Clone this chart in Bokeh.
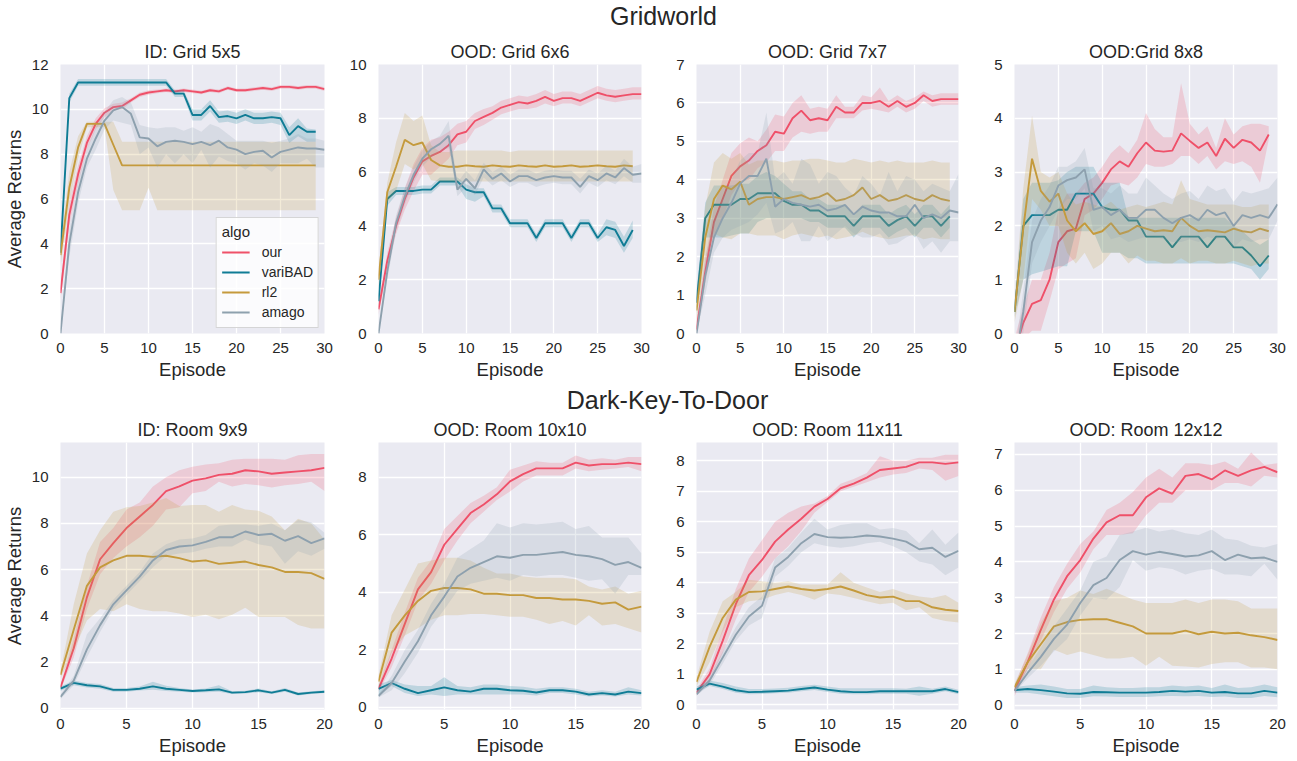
from bokeh.plotting import figure
from bokeh.layouts import column, row
from bokeh.models import Range1d, FixedTicker, Legend, LegendItem, Title
from bokeh.embed import file_html
from bokeh.resources import INLINE
from bokeh.core.properties import value

FONT = "Liberation Sans"
TXT = "#262626"
BG = "#eaeaf2"
COLORS = {"our": "#ef5169", "variBAD": "#0f7c95", "rl2": "#c59a3c", "amago": "#8ea1ae"}
ALGOS = ["our", "variBAD", "rl2", "amago"]

# ---------------- Gridworld: ID Grid 5x5 ----------------
g5_our = [1.8, 5.3, 7.1, 8.5, 9.35, 9.85, 10.1, 10.15, 10.4, 10.65, 10.75, 10.8, 10.85, 10.8, 10.85, 10.8, 10.75, 10.85, 10.8, 10.95, 10.85, 10.85, 10.9, 10.95, 10.9, 11.0, 11.0, 10.95, 11.0, 11.0, 10.9]
g5_our_lo = [1.5, 4.8, 6.7, 8.2, 9.1, 9.65, 9.95, 10.0, 10.3, 10.55, 10.65, 10.72, 10.77, 10.72, 10.77, 10.72, 10.67, 10.77, 10.72, 10.87, 10.77, 10.77, 10.82, 10.87, 10.82, 10.92, 10.92, 10.87, 10.92, 10.92, 10.82]
g5_our_hi = [2.1, 5.8, 7.5, 8.8, 9.6, 10.05, 10.25, 10.3, 10.5, 10.75, 10.85, 10.88, 10.93, 10.88, 10.93, 10.88, 10.83, 10.93, 10.88, 11.03, 10.93, 10.93, 10.98, 11.03, 10.98, 11.08, 11.08, 11.03, 11.08, 11.08, 10.98]
g5_var = [3.6, 10.5, 11.2, 11.2, 11.2, 11.2, 11.2, 11.2, 11.2, 11.2, 11.2, 11.2, 11.2, 10.7, 10.7, 9.75, 9.75, 10.15, 9.65, 9.7, 9.6, 9.75, 9.6, 9.6, 9.65, 9.6, 8.85, 9.25, 9.0, 9.0]
g5_var_lo = [3.3, 10.3, 11.05, 11.05, 11.05, 11.05, 11.05, 11.05, 11.05, 11.05, 11.05, 11.05, 11.05, 10.55, 10.55, 9.5, 9.5, 9.9, 9.4, 9.45, 9.35, 9.5, 9.35, 9.35, 9.4, 9.3, 8.5, 8.8, 8.55, 8.55]
g5_var_hi = [3.9, 10.7, 11.35, 11.35, 11.35, 11.35, 11.35, 11.35, 11.35, 11.35, 11.35, 11.35, 11.35, 10.85, 10.85, 10.0, 10.0, 10.4, 9.9, 9.95, 9.85, 10.0, 9.85, 9.85, 9.9, 9.85, 9.2, 9.6, 9.15, 9.1]
g5_rl2 = [3.5, 6.5, 8.3, 9.35, 9.35, 9.35, 8.42, 7.5, 7.5, 7.5, 7.5, 7.5, 7.5, 7.5, 7.5, 7.5, 7.5, 7.5, 7.5, 7.5, 7.5, 7.5, 7.5, 7.5, 7.5, 7.5, 7.5, 7.5, 7.5, 7.5]
g5_rl2_lo = [3.0, 5.8, 7.8, 9.2, 9.2, 9.2, 6.4, 5.5, 5.5, 5.5, 6.5, 5.5, 5.5, 5.5, 5.5, 5.5, 5.5, 5.5, 5.5, 5.5, 5.5, 5.5, 5.5, 5.5, 5.5, 5.5, 5.5, 5.5, 5.5, 5.5]
g5_rl2_hi = [4.0, 7.2, 8.8, 9.45, 9.45, 9.45, 9.45, 8.55, 8.55, 8.55, 8.55, 8.55, 8.55, 8.55, 8.55, 8.55, 8.55, 8.55, 8.55, 8.55, 8.55, 8.55, 8.55, 8.55, 8.55, 8.55, 8.55, 8.55, 8.55, 8.55]
g5_ama = [0.0, 4.0, 6.3, 7.8, 8.7, 9.5, 9.95, 10.1, 9.8, 8.75, 8.7, 8.35, 8.55, 8.6, 8.55, 8.45, 8.55, 8.4, 8.6, 8.3, 8.2, 8.0, 8.1, 8.15, 7.85, 8.1, 8.2, 8.3, 8.25, 8.25, 8.2]
g5_ama_lo = [0.0, 3.4, 5.8, 7.4, 8.2, 9.1, 9.5, 9.4, 9.3, 8.0, 8.3, 7.4, 8.0, 7.6, 8.0, 7.6, 8.2, 7.4, 7.9, 7.7, 7.6, 7.3, 7.6, 7.5, 7.2, 7.6, 7.6, 7.6, 7.8, 7.4, 7.4]
g5_ama_hi = [0.0, 4.6, 6.8, 8.2, 9.2, 9.9, 10.4, 10.55, 10.3, 9.3, 9.2, 9.15, 9.2, 9.2, 9.05, 9.2, 9.0, 9.35, 9.2, 8.9, 8.6, 8.6, 8.6, 8.6, 8.5, 8.6, 8.7, 8.9, 8.7, 8.7, 8.6]

# ---------------- OOD Grid 6x6 ----------------
g6_our = [0.9, 2.7, 4.0, 5.0, 5.8, 6.4, 6.6, 6.75, 7.0, 7.4, 7.5, 7.9, 8.05, 8.2, 8.4, 8.5, 8.6, 8.55, 8.65, 8.8, 8.65, 8.75, 8.75, 8.65, 8.8, 8.95, 8.85, 8.8, 8.85, 8.9, 8.9]
g6_our_lo = [0.7, 2.4, 3.7, 4.6, 5.3, 5.9, 5.9, 6.2, 6.5, 7.0, 7.1, 7.6, 7.75, 7.95, 8.15, 8.25, 8.35, 8.35, 8.4, 8.55, 8.45, 8.55, 8.55, 8.45, 8.6, 8.75, 8.65, 8.6, 8.65, 8.7, 8.7]
g6_our_hi = [1.1, 3.0, 4.3, 5.4, 6.3, 6.9, 7.2, 7.3, 7.5, 7.8, 7.9, 8.2, 8.35, 8.45, 8.65, 8.75, 8.85, 8.8, 8.9, 9.05, 8.9, 9.0, 9.0, 8.9, 9.05, 9.2, 9.1, 9.05, 9.1, 9.15, 9.15]
g6_var = [1.2, 5.0, 5.3, 5.3, 5.3, 5.35, 5.35, 5.65, 5.65, 5.65, 5.35, 5.25, 5.25, 4.65, 4.65, 4.1, 4.1, 4.1, 3.55, 4.1, 4.1, 4.1, 3.55, 4.1, 4.1, 3.55, 3.95, 3.85, 3.25, 3.85]
g6_var_lo = [1.0, 4.75, 5.15, 5.15, 5.15, 5.2, 5.2, 5.5, 5.5, 5.5, 5.0, 4.9, 5.1, 4.5, 4.5, 3.95, 3.95, 3.95, 3.4, 3.95, 3.95, 3.95, 3.4, 3.95, 3.95, 3.4, 3.65, 3.55, 3.0, 3.55]
g6_var_hi = [1.4, 5.25, 5.45, 5.45, 5.45, 5.5, 5.5, 5.8, 5.8, 5.8, 5.55, 5.4, 5.4, 4.8, 4.8, 4.25, 4.25, 4.25, 3.7, 4.25, 4.25, 4.25, 3.7, 4.25, 4.25, 3.7, 4.25, 4.15, 3.6, 4.2]
g6_rl2 = [2.0, 5.25, 6.2, 7.2, 7.0, 7.1, 6.45, 6.25, 6.2, 6.2, 6.25, 6.22, 6.2, 6.25, 6.22, 6.2, 6.25, 6.22, 6.2, 6.25, 6.2, 6.22, 6.25, 6.2, 6.22, 6.25, 6.22, 6.2, 6.25, 6.22]
g6_rl2_lo = [1.6, 4.9, 5.3, 6.3, 6.1, 6.3, 5.7, 5.65, 5.65, 5.65, 5.65, 5.65, 5.65, 5.65, 5.65, 5.65, 5.65, 5.65, 5.65, 5.65, 5.65, 5.65, 5.65, 5.65, 5.65, 5.65, 5.65, 5.65, 5.65, 5.65]
g6_rl2_hi = [2.4, 5.6, 7.1, 8.2, 7.9, 8.1, 7.0, 6.75, 6.75, 6.8, 6.8, 6.8, 6.8, 6.8, 6.8, 6.75, 6.8, 6.8, 6.8, 6.8, 6.8, 6.8, 6.8, 6.8, 6.8, 6.8, 6.8, 6.8, 6.8, 6.8]
g6_ama = [0.0, 2.3, 4.1, 5.1, 5.9, 6.5, 6.85, 7.05, 7.35, 5.35, 5.75, 5.4, 6.1, 5.75, 5.95, 5.65, 5.85, 5.85, 5.7, 5.8, 5.85, 5.8, 5.8, 5.45, 5.85, 5.7, 5.95, 5.8, 6.15, 5.9, 5.95]
g6_ama_lo = [0.0, 2.0, 3.8, 4.8, 5.6, 6.2, 6.55, 6.75, 6.9, 5.1, 5.45, 5.15, 5.8, 5.5, 5.7, 5.45, 5.6, 5.6, 5.45, 5.55, 5.6, 5.55, 5.55, 5.2, 5.6, 5.45, 5.7, 5.55, 5.85, 5.6, 5.6]
g6_ama_hi = [0.0, 2.6, 4.4, 5.4, 6.2, 6.8, 7.15, 7.35, 7.9, 5.6, 6.05, 5.7, 6.35, 6.0, 6.2, 5.9, 6.1, 6.1, 5.95, 6.05, 6.1, 6.05, 6.05, 5.75, 6.1, 5.95, 6.25, 6.05, 6.5, 6.2, 6.3]

# ---------------- OOD Grid 7x7 ----------------
g7_our = [0.1, 1.6, 2.9, 3.5, 4.1, 4.35, 4.5, 4.75, 4.9, 5.25, 5.2, 5.6, 5.8, 5.55, 5.6, 5.55, 5.9, 5.75, 5.75, 6.0, 6.0, 6.05, 5.9, 6.05, 5.9, 6.0, 6.2, 6.05, 6.1, 6.1, 6.1]
g7_our_lo = [0.0, 1.3, 2.5, 3.0, 3.6, 3.95, 4.0, 4.3, 4.45, 4.75, 4.75, 5.1, 5.25, 5.2, 5.25, 5.25, 5.6, 5.6, 5.6, 5.8, 5.85, 5.8, 5.75, 5.9, 5.75, 5.85, 6.05, 5.9, 5.95, 5.95, 5.95]
g7_our_hi = [0.3, 1.9, 3.3, 4.0, 4.7, 4.95, 5.1, 5.0, 5.3, 5.7, 5.65, 6.0, 6.2, 5.85, 5.9, 5.85, 6.2, 5.9, 5.9, 6.2, 6.15, 6.4, 6.05, 6.2, 6.05, 6.15, 6.3, 6.2, 6.25, 6.25, 6.25]
g7_var = [0.8, 3.0, 3.35, 3.35, 3.35, 3.5, 3.5, 3.65, 3.65, 3.65, 3.45, 3.35, 3.35, 3.2, 3.2, 3.05, 3.05, 3.05, 2.8, 3.05, 3.05, 3.05, 2.8, 2.95, 3.05, 2.8, 3.05, 3.05, 2.8, 3.05]
g7_var_lo = [0.5, 2.5, 2.5, 2.5, 2.55, 2.6, 2.6, 2.9, 3.0, 3.0, 3.0, 3.0, 3.0, 2.9, 2.9, 2.75, 2.75, 2.75, 2.5, 2.75, 2.75, 2.75, 2.5, 2.65, 2.75, 2.5, 2.75, 2.75, 2.5, 2.75]
g7_var_hi = [1.1, 3.4, 3.85, 3.85, 3.85, 3.9, 3.9, 4.1, 4.2, 4.1, 3.9, 3.7, 3.7, 3.5, 3.5, 3.35, 3.35, 3.35, 3.1, 3.35, 3.35, 3.35, 3.1, 3.25, 3.35, 3.1, 3.35, 3.35, 3.1, 3.35]
g7_rl2 = [0.6, 2.5, 3.5, 3.85, 3.75, 3.95, 3.35, 3.5, 3.55, 3.55, 3.5, 3.55, 3.6, 3.5, 3.55, 3.65, 3.45, 3.5, 3.6, 3.8, 3.5, 3.6, 3.45, 3.5, 3.6, 3.5, 3.45, 3.6, 3.5, 3.45]
g7_rl2_lo = [0.3, 1.8, 2.6, 2.5, 2.45, 2.6, 2.6, 2.55, 2.55, 2.55, 2.45, 2.55, 2.6, 2.55, 2.5, 2.55, 2.45, 2.5, 2.55, 2.65, 2.55, 2.5, 2.45, 2.5, 2.55, 2.55, 2.45, 2.5, 2.45, 2.45]
g7_rl2_hi = [0.9, 3.3, 4.45, 4.7, 4.55, 4.7, 4.4, 4.5, 4.5, 4.5, 4.45, 4.5, 4.5, 4.55, 4.55, 4.5, 4.45, 4.45, 4.55, 4.5, 4.45, 4.5, 4.45, 4.5, 4.45, 4.45, 4.45, 4.5, 4.45, 4.45]
g7_ama = [0.0, 1.5, 2.5, 3.0, 3.4, 3.9, 4.1, 4.1, 4.55, 3.3, 3.5, 3.4, 3.35, 3.3, 3.35, 3.2, 3.25, 3.35, 3.1, 3.3, 3.2, 3.15, 3.15, 3.05, 3.05, 3.35, 3.0, 3.1, 3.0, 3.2, 3.15]
g7_ama_lo = [0.0, 1.0, 2.1, 2.5, 2.7, 2.8, 2.9, 3.1, 3.4, 2.6, 2.7, 2.9, 2.4, 2.4, 2.8, 2.4, 2.6, 2.8, 2.6, 2.5, 2.5, 2.6, 2.3, 2.35, 2.5, 2.6, 2.2, 2.4, 2.1, 2.4, 2.4]
g7_ama_hi = [0.0, 2.0, 2.9, 3.5, 4.0, 4.5, 4.7, 4.7, 5.75, 4.0, 4.2, 3.9, 4.55, 4.4, 3.9, 4.2, 4.1, 3.8, 3.6, 4.1, 3.9, 3.6, 4.2, 3.7, 4.1, 4.0, 3.7, 3.9, 3.8, 3.7, 4.15]

# ---------------- OOD Grid 8x8 ----------------
g8_our = [-0.35, 0.2, 0.55, 0.62, 1.0, 1.7, 1.9, 1.95, 2.5, 2.6, 2.8, 3.05, 3.2, 3.1, 3.35, 3.55, 3.4, 3.38, 3.4, 3.72, 3.58, 3.45, 3.55, 3.3, 3.62, 3.45, 3.6, 3.55, 3.4, 3.7]
g8_our_lo = [-0.6, -0.1, 0.05, 0.05, 0.6, 1.2, 1.3, 1.4, 2.2, 2.3, 2.5, 2.75, 2.8, 2.75, 2.9, 3.15, 3.1, 3.1, 3.15, 3.3, 3.3, 3.15, 3.3, 3.05, 3.2, 3.15, 3.2, 3.1, 2.8, 3.6]
g8_our_hi = [-0.1, 0.5, 1.0, 1.0, 1.5, 2.3, 2.6, 2.6, 2.8, 2.9, 3.1, 3.35, 3.5, 3.35, 3.6, 4.1, 3.8, 3.65, 3.65, 4.65, 3.9, 3.7, 3.85, 3.45, 4.0, 3.7, 3.85, 3.9, 3.9, 3.85]
g8_var = [0.4, 2.0, 2.2, 2.2, 2.2, 2.3, 2.3, 2.6, 2.6, 2.6, 2.35, 2.3, 2.3, 2.1, 2.1, 1.8, 1.8, 1.8, 1.6, 1.8, 1.8, 1.8, 1.6, 1.8, 1.8, 1.6, 1.6, 1.45, 1.25, 1.45]
g8_var_lo = [0.3, 1.0, 1.1, 1.15, 1.2, 1.25, 1.25, 1.9, 1.9, 1.9, 1.5, 1.5, 1.5, 1.4, 1.4, 1.3, 1.3, 1.3, 1.3, 1.3, 1.3, 1.3, 1.3, 1.3, 1.3, 1.3, 1.25, 1.2, 1.0, 1.2]
g8_var_hi = [0.5, 2.5, 2.8, 2.8, 2.8, 2.85, 3.0, 3.1, 3.1, 3.1, 2.8, 2.8, 2.8, 2.15, 2.15, 2.15, 2.15, 2.15, 2.15, 2.15, 2.15, 2.15, 2.15, 2.15, 2.15, 2.0, 1.9, 1.75, 1.65, 1.75]
g8_rl2 = [0.4, 1.95, 3.25, 2.65, 2.45, 2.6, 2.1, 1.9, 2.05, 1.85, 1.9, 2.05, 1.85, 1.9, 2.0, 1.95, 1.9, 1.92, 1.9, 2.15, 2.0, 1.9, 1.92, 1.9, 1.88, 1.95, 1.9, 1.88, 1.95, 1.9]
g8_rl2_lo = [0.2, 1.0, 2.5, 2.3, 2.0, 2.0, 1.5, 1.3, 1.5, 1.2, 1.3, 1.5, 1.5, 1.3, 1.45, 1.35, 1.35, 1.3, 1.3, 1.4, 1.3, 1.35, 1.35, 1.3, 1.3, 1.35, 1.3, 1.25, 1.3, 1.3]
g8_rl2_hi = [0.6, 2.7, 4.05, 3.0, 2.9, 3.0, 2.6, 2.4, 2.45, 2.4, 2.35, 2.45, 2.3, 2.35, 2.4, 2.35, 2.4, 2.45, 2.4, 2.85, 2.5, 2.45, 2.4, 2.4, 2.4, 2.4, 2.35, 2.35, 2.4, 2.4]
g8_ama = [-0.6, 0.4, 1.7, 2.1, 2.35, 2.75, 2.85, 2.9, 3.05, 2.3, 2.35, 2.2, 2.3, 2.15, 2.15, 2.3, 2.3, 2.15, 2.05, 2.15, 2.2, 2.1, 2.3, 2.2, 2.25, 2.0, 2.2, 2.15, 2.2, 2.15, 2.4]
g8_ama_lo = [-0.8, 0.0, 1.3, 1.7, 2.0, 2.3, 2.5, 2.5, 2.7, 1.9, 2.0, 1.75, 1.8, 1.7, 1.75, 1.8, 1.8, 1.75, 1.7, 1.7, 1.75, 1.7, 1.8, 1.75, 1.8, 1.6, 1.75, 1.7, 1.75, 1.75, 2.1]
g8_ama_hi = [-0.4, 0.8, 2.1, 2.5, 2.75, 3.1, 3.1, 3.2, 3.45, 2.7, 2.7, 2.6, 2.75, 2.6, 2.6, 2.9, 2.75, 2.6, 2.5, 2.6, 2.65, 2.5, 2.75, 2.65, 2.7, 2.45, 2.65, 2.6, 2.65, 2.7, 2.9]

# ---------------- Dark-Key-To-Door: ID Room 9x9 ----------------
r9_our = [0.9, 2.6, 4.8, 6.45, 7.15, 7.8, 8.3, 8.8, 9.4, 9.6, 9.85, 9.95, 10.1, 10.15, 10.3, 10.25, 10.15, 10.2, 10.25, 10.3, 10.4]
r9_our_lo = [0.8, 2.2, 4.3, 5.8, 6.5, 7.0, 7.4, 7.9, 8.6, 8.7, 9.3, 9.4, 9.8, 9.6, 9.7, 9.65, 9.55, 9.65, 9.7, 9.8, 9.4]
r9_our_hi = [1.0, 3.0, 5.3, 7.2, 7.8, 8.6, 8.9, 9.6, 10.0, 10.3, 10.45, 10.55, 10.6, 10.75, 10.8, 10.8, 10.8, 10.75, 10.95, 11.0, 11.0]
r9_var = [0.85, 1.1, 1.0, 0.95, 0.8, 0.8, 0.85, 0.95, 0.85, 0.8, 0.75, 0.78, 0.82, 0.68, 0.7, 0.78, 0.68, 0.8, 0.62, 0.68, 0.72]
r9_var_lo = [0.75, 1.0, 0.9, 0.85, 0.72, 0.72, 0.77, 0.8, 0.75, 0.72, 0.68, 0.7, 0.72, 0.62, 0.64, 0.7, 0.62, 0.72, 0.56, 0.62, 0.66]
r9_var_hi = [0.95, 1.2, 1.1, 1.05, 0.88, 0.88, 0.95, 1.15, 0.98, 0.88, 0.82, 0.86, 1.0, 0.74, 0.76, 0.86, 0.74, 0.88, 0.68, 0.74, 0.78]
r9_rl2 = [1.45, 3.4, 5.3, 6.1, 6.4, 6.6, 6.6, 6.55, 6.6, 6.5, 6.35, 6.4, 6.25, 6.3, 6.35, 6.2, 6.1, 5.9, 5.9, 5.85, 5.6]
r9_rl2_lo = [1.3, 2.5, 3.8, 4.3, 4.2, 4.5, 4.3, 4.2, 4.2, 4.1, 3.95, 4.05, 3.85, 4.05, 4.35, 3.95, 3.95, 3.95, 3.6, 3.45, 3.45]
r9_rl2_hi = [1.6, 4.5, 6.7, 7.7, 8.5, 8.7, 8.75, 8.9, 9.1, 8.75, 8.8, 8.8, 8.5, 8.8, 8.6, 8.55, 8.3, 7.7, 8.2, 8.0, 7.3]
r9_ama = [0.5, 1.2, 2.55, 3.6, 4.5, 5.1, 5.7, 6.4, 6.85, 7.0, 7.05, 7.2, 7.4, 7.4, 7.65, 7.5, 7.55, 7.25, 7.45, 7.15, 7.35]
r9_ama_lo = [0.4, 1.0, 2.2, 3.3, 4.3, 4.9, 5.5, 6.1, 6.6, 6.7, 6.75, 6.9, 7.0, 7.0, 7.3, 7.1, 7.0, 6.25, 6.8, 6.6, 6.9]
r9_ama_hi = [0.6, 1.4, 3.2, 3.9, 4.7, 5.3, 5.9, 6.7, 7.1, 7.3, 7.35, 7.5, 7.9, 7.95, 7.95, 7.9, 8.0, 7.7, 8.15, 8.05, 7.6]

# ---------------- OOD Room 10x10 ----------------
r10_our = [0.65, 1.7, 2.9, 4.1, 4.7, 5.65, 6.2, 6.75, 7.05, 7.4, 7.85, 8.1, 8.3, 8.3, 8.3, 8.5, 8.4, 8.45, 8.45, 8.5, 8.45]
r10_our_lo = [0.55, 1.4, 2.5, 3.7, 4.3, 5.1, 5.8, 6.4, 6.8, 7.2, 7.5, 7.85, 8.05, 8.05, 8.05, 8.3, 8.2, 8.25, 8.3, 8.35, 8.2]
r10_our_hi = [0.75, 2.0, 3.3, 4.5, 5.1, 6.2, 6.65, 7.1, 7.35, 7.65, 8.25, 8.4, 8.55, 8.5, 8.5, 8.75, 8.6, 8.65, 8.6, 8.7, 8.7]
r10_var = [0.65, 0.85, 0.65, 0.5, 0.6, 0.7, 0.6, 0.55, 0.65, 0.65, 0.6, 0.58, 0.52, 0.6, 0.6, 0.55, 0.45, 0.5, 0.45, 0.55, 0.5]
r10_var_lo = [0.4, 0.75, 0.5, 0.4, 0.45, 0.4, 0.45, 0.45, 0.45, 0.45, 0.45, 0.45, 0.42, 0.5, 0.5, 0.45, 0.38, 0.42, 0.38, 0.45, 0.42]
r10_var_hi = [0.8, 0.95, 0.8, 0.75, 0.75, 1.05, 0.75, 0.7, 0.8, 0.8, 0.75, 0.72, 0.65, 0.7, 0.7, 0.65, 0.55, 0.6, 0.55, 0.7, 0.6]
r10_rl2 = [0.9, 2.6, 3.2, 3.7, 4.05, 4.15, 4.15, 4.1, 3.95, 3.95, 3.9, 3.9, 3.8, 3.8, 3.75, 3.75, 3.7, 3.6, 3.65, 3.4, 3.5]
r10_rl2_lo = [0.7, 1.9, 2.5, 2.75, 3.05, 3.2, 3.2, 3.25, 3.25, 3.2, 3.15, 3.15, 3.05, 2.9, 3.0, 2.85, 3.2, 2.85, 2.9, 2.75, 2.6]
r10_rl2_hi = [1.1, 3.2, 4.1, 5.0, 5.1, 5.2, 5.2, 5.1, 4.85, 4.65, 4.65, 4.55, 4.5, 4.5, 4.5, 4.45, 4.2, 4.1, 4.2, 3.95, 4.05]
r10_ama = [0.4, 0.85, 1.6, 2.3, 3.2, 3.85, 4.55, 4.85, 5.05, 5.25, 5.2, 5.3, 5.3, 5.35, 5.4, 5.3, 5.25, 5.15, 4.95, 5.05, 4.85]
r10_ama_lo = [0.35, 0.6, 1.2, 1.9, 2.8, 3.4, 4.05, 4.3, 4.4, 4.5, 4.4, 4.6, 4.55, 4.6, 4.6, 4.5, 4.4, 4.45, 3.95, 4.6, 4.6]
r10_ama_hi = [0.45, 1.1, 2.0, 2.7, 3.6, 4.3, 5.2, 5.5, 5.8, 6.4, 6.25, 6.4, 6.35, 6.4, 6.45, 6.2, 6.3, 5.9, 5.9, 5.9, 5.35]

# ---------------- OOD Room 11x11 ----------------
r11_our = [0.4, 1.0, 2.1, 3.3, 4.25, 4.75, 5.35, 5.75, 6.1, 6.5, 6.75, 7.1, 7.25, 7.45, 7.7, 7.75, 7.8, 7.95, 7.95, 7.9, 7.95]
r11_our_lo = [0.3, 0.8, 1.7, 2.8, 3.7, 4.2, 4.8, 5.2, 5.7, 6.3, 6.65, 7.0, 7.15, 7.3, 7.45, 7.55, 7.6, 7.75, 7.7, 7.35, 7.5]
r11_our_hi = [0.5, 1.2, 2.5, 3.8, 4.8, 5.4, 6.0, 6.3, 6.5, 6.6, 6.85, 7.25, 7.4, 7.6, 8.15, 8.0, 8.0, 8.1, 8.1, 8.2, 8.2]
r11_var = [0.5, 0.7, 0.6, 0.48, 0.42, 0.43, 0.45, 0.47, 0.52, 0.57, 0.5, 0.45, 0.42, 0.42, 0.45, 0.45, 0.45, 0.45, 0.45, 0.52, 0.42]
r11_var_lo = [0.4, 0.62, 0.52, 0.4, 0.35, 0.36, 0.38, 0.4, 0.45, 0.49, 0.42, 0.37, 0.35, 0.35, 0.37, 0.37, 0.37, 0.3, 0.37, 0.45, 0.35]
r11_var_hi = [0.6, 0.8, 0.72, 0.6, 0.52, 0.52, 0.54, 0.56, 0.62, 0.66, 0.6, 0.55, 0.55, 0.55, 0.55, 0.55, 0.53, 0.6, 0.53, 0.6, 0.5]
r11_rl2 = [0.75, 1.9, 2.85, 3.45, 3.7, 3.72, 3.8, 3.88, 3.8, 3.75, 3.8, 3.88, 3.75, 3.6, 3.52, 3.55, 3.4, 3.4, 3.2, 3.12, 3.08]
r11_rl2_lo = [0.6, 1.4, 2.4, 3.2, 3.4, 3.45, 3.6, 3.7, 3.6, 3.45, 3.65, 3.6, 3.5, 3.4, 3.3, 3.35, 3.1, 3.2, 2.85, 2.75, 2.7]
r11_rl2_hi = [0.9, 2.4, 3.4, 3.7, 4.1, 4.05, 4.0, 4.05, 3.95, 3.95, 3.95, 4.35, 4.0, 3.85, 3.7, 3.8, 3.65, 3.55, 3.5, 3.6, 3.35]
r11_ama = [0.35, 0.8, 1.55, 2.3, 2.9, 3.25, 4.5, 4.85, 5.3, 5.6, 5.5, 5.48, 5.5, 5.55, 5.52, 5.45, 5.35, 5.1, 5.15, 4.85, 5.05]
r11_ama_lo = [0.3, 0.65, 1.35, 2.1, 2.6, 2.85, 4.2, 4.55, 5.0, 5.3, 5.2, 5.15, 5.2, 5.3, 5.35, 5.2, 5.0, 4.7, 4.6, 4.25, 4.5]
r11_ama_hi = [0.45, 0.95, 1.75, 2.55, 3.2, 3.55, 4.8, 5.15, 5.65, 6.1, 5.75, 5.9, 5.95, 5.95, 5.75, 5.8, 5.7, 5.3, 5.75, 5.25, 5.65]

# ---------------- OOD Room 12x12 ----------------
r12_our = [0.4, 1.2, 2.1, 2.95, 3.6, 4.05, 4.65, 5.1, 5.3, 5.3, 5.8, 6.05, 5.9, 6.4, 6.45, 6.3, 6.55, 6.4, 6.55, 6.65, 6.5]
r12_our_lo = [0.25, 1.0, 1.8, 2.6, 3.25, 3.7, 4.35, 4.75, 4.75, 4.8, 5.3, 5.65, 5.65, 6.0, 6.0, 6.0, 6.2, 6.2, 6.1, 6.4, 6.35]
r12_our_hi = [0.55, 1.45, 2.45, 3.3, 3.95, 4.5, 4.85, 5.45, 5.65, 5.95, 6.35, 6.6, 6.35, 6.75, 6.75, 6.7, 6.8, 6.6, 7.05, 6.7, 6.75]
r12_var = [0.42, 0.45, 0.42, 0.38, 0.33, 0.32, 0.37, 0.36, 0.35, 0.35, 0.35, 0.37, 0.4, 0.38, 0.4, 0.35, 0.37, 0.33, 0.33, 0.4, 0.35]
r12_var_lo = [0.35, 0.35, 0.3, 0.25, 0.2, 0.2, 0.25, 0.24, 0.23, 0.23, 0.23, 0.25, 0.26, 0.25, 0.26, 0.23, 0.24, 0.2, 0.2, 0.26, 0.22]
r12_var_hi = [0.5, 0.55, 0.58, 0.52, 0.45, 0.45, 0.55, 0.5, 0.48, 0.48, 0.5, 0.5, 0.55, 0.52, 0.55, 0.48, 0.58, 0.48, 0.5, 0.58, 0.5]
r12_rl2 = [0.5, 1.2, 1.7, 2.2, 2.32, 2.38, 2.4, 2.4, 2.3, 2.2, 2.0, 2.0, 2.0, 2.08, 1.98, 2.05, 2.0, 2.02, 1.95, 1.9, 1.82]
r12_rl2_lo = [0.4, 1.0, 1.0, 1.55, 1.4, 1.5, 1.4, 1.3, 1.3, 1.35, 1.1, 1.35, 1.1, 1.08, 1.05, 1.15, 1.2, 1.2, 1.05, 1.05, 1.0]
r12_rl2_hi = [0.6, 1.4, 2.3, 2.9, 3.0, 3.2, 3.1, 3.25, 3.1, 2.95, 2.85, 2.85, 2.85, 2.95, 2.85, 2.95, 2.95, 2.9, 2.7, 2.7, 2.7]
r12_ama = [0.4, 0.9, 1.35, 1.85, 2.25, 2.85, 3.35, 3.55, 4.05, 4.3, 4.2, 4.28, 4.22, 4.15, 4.18, 4.3, 4.05, 4.2, 4.1, 4.12, 4.0]
r12_ama_lo = [0.35, 0.75, 1.1, 1.5, 1.85, 2.5, 3.0, 2.95, 3.3, 4.05, 3.75, 3.85, 3.8, 3.65, 3.75, 3.8, 3.65, 3.65, 3.6, 3.95, 3.5]
r12_ama_hi = [0.45, 1.05, 1.6, 2.2, 2.7, 3.2, 4.0, 4.15, 4.75, 4.85, 4.95, 4.85, 4.9, 4.8, 4.75, 4.9, 4.65, 4.6, 4.45, 4.4, 4.5]

grid_titles = ["ID: Grid 5x5", "OOD: Grid 6x6", "OOD: Grid 7x7", "OOD:Grid 8x8"]
room_titles = ["ID: Room 9x9", "OOD: Room 10x10", "OOD: Room 11x11", "OOD: Room 12x12"]
grid_xticks = [0, 5, 10, 15, 20, 25, 30]
room_xticks = [0, 5, 10, 15, 20]
grid_yticks = [[0, 2, 4, 6, 8, 10, 12], [0, 2, 4, 6, 8, 10], [0, 1, 2, 3, 4, 5, 6, 7], [0, 1, 2, 3, 4, 5]]
room_yticks = [[0, 2, 4, 6, 8, 10], [0, 2, 4, 6, 8], [0, 1, 2, 3, 4, 5, 6, 7, 8], [0, 1, 2, 3, 4, 5, 6, 7]]
grid_ylims = [(0, 12), (0, 10), (0, 7), (0, 5)]
room_ylims = [(-0.05, 11.5), (-0.07, 9.2), (-0.15, 8.6), (-0.12, 7.33)]

grid_data = [
    [(g5_our, g5_our_lo, g5_our_hi), (g5_var, g5_var_lo, g5_var_hi), (g5_rl2, g5_rl2_lo, g5_rl2_hi), (g5_ama, g5_ama_lo, g5_ama_hi)],
    [(g6_our, g6_our_lo, g6_our_hi), (g6_var, g6_var_lo, g6_var_hi), (g6_rl2, g6_rl2_lo, g6_rl2_hi), (g6_ama, g6_ama_lo, g6_ama_hi)],
    [(g7_our, g7_our_lo, g7_our_hi), (g7_var, g7_var_lo, g7_var_hi), (g7_rl2, g7_rl2_lo, g7_rl2_hi), (g7_ama, g7_ama_lo, g7_ama_hi)],
    [(g8_our, g8_our_lo, g8_our_hi), (g8_var, g8_var_lo, g8_var_hi), (g8_rl2, g8_rl2_lo, g8_rl2_hi), (g8_ama, g8_ama_lo, g8_ama_hi)],
]
room_data = [
    [(r9_our, r9_our_lo, r9_our_hi), (r9_var, r9_var_lo, r9_var_hi), (r9_rl2, r9_rl2_lo, r9_rl2_hi), (r9_ama, r9_ama_lo, r9_ama_hi)],
    [(r10_our, r10_our_lo, r10_our_hi), (r10_var, r10_var_lo, r10_var_hi), (r10_rl2, r10_rl2_lo, r10_rl2_hi), (r10_ama, r10_ama_lo, r10_ama_hi)],
    [(r11_our, r11_our_lo, r11_our_hi), (r11_var, r11_var_lo, r11_var_hi), (r11_rl2, r11_rl2_lo, r11_rl2_hi), (r11_ama, r11_ama_lo, r11_ama_hi)],
    [(r12_our, r12_our_lo, r12_our_hi), (r12_var, r12_var_lo, r12_var_hi), (r12_rl2, r12_rl2_lo, r12_rl2_hi), (r12_ama, r12_ama_lo, r12_ama_hi)],
]

# layout geometry (pixels); the page has no body margin
FRAME_W = [264, 263, 262, 263]
BORDER_L = [59, 32, 32, 32]
BORDER_R = [22, 23, 24, 20]
TOTAL_W = 1296


def make_panel(i, title, series, xmax, ylim, xticks, yticks, fh, bt, bb, ylabel, legend):
    fw = FRAME_W[i]
    ttl = Title(text=title, align="center", text_font=FONT, text_font_size="18px",
                text_font_style="normal", text_color=TXT, standoff=6)
    p = figure(frame_width=fw, frame_height=fh,
               min_border_left=BORDER_L[i], min_border_right=BORDER_R[i],
               min_border_top=bt, min_border_bottom=bb, title=ttl,
               x_range=Range1d(0, xmax), y_range=Range1d(*ylim),
               output_backend="svg", toolbar_location=None,
               background_fill_color=BG, border_fill_color="white",
               outline_line_color=None)
    for ax, ticks in ((p.xaxis[0], xticks), (p.yaxis[0], yticks)):
        ax.ticker = FixedTicker(ticks=ticks)
        ax.axis_line_color = None
        ax.major_tick_line_color = None
        ax.minor_tick_line_color = None
        ax.major_tick_out = 0
        ax.major_tick_in = 0
        ax.major_label_text_font = FONT
        ax.major_label_text_font_size = "15px"
        ax.major_label_text_color = TXT
        ax.axis_label_text_font = FONT
        ax.axis_label_text_font_size = "18.5px"
        ax.axis_label_text_font_style = "normal"
        ax.axis_label_text_color = TXT
    p.xaxis.major_label_standoff = 9
    p.yaxis.major_label_standoff = 12
    p.xaxis.axis_label = "Episode"
    p.xaxis.axis_label_standoff = 3
    if ylabel:
        p.yaxis.axis_label = "Average Returns"
        p.yaxis.axis_label_standoff = 4
    p.xgrid.grid_line_color = "white"
    p.ygrid.grid_line_color = "white"
    p.xgrid.grid_line_width = 1.3
    p.ygrid.grid_line_width = 1.3

    items = []
    for name, (m, lo, hi) in zip(ALGOS, series):
        c = COLORS[name]
        xs = list(range(len(m)))
        r = p.line(xs, m, line_color=c, line_width=1.9)
        p.varea(x=xs, y1=lo, y2=hi, fill_color=c, fill_alpha=0.2)
        items.append(LegendItem(label=name, renderers=[r]))
    if legend:
        lg = Legend(items=items, location="bottom_right", title="algo",
                    title_text_font=FONT, title_text_font_size="15px",
                    title_text_font_style="normal", title_text_color=TXT,
                    label_text_font=FONT, label_text_font_size="14px",
                    label_text_color=TXT, glyph_width=28, glyph_height=20,
                    label_height=20, spacing=0, padding=5, margin=5,
                    label_standoff=12, title_standoff=2,
                    background_fill_color="white", background_fill_alpha=0.8,
                    border_line_color="#cccccc", border_line_alpha=0.8)
        p.add_layout(lg)
    return p


def title_fig(text, h, y, x):
    t = figure(frame_width=TOTAL_W, frame_height=h, title=None,
               x_range=Range1d(0, TOTAL_W), y_range=Range1d(0, h),
               min_border=0, output_backend="svg", toolbar_location=None,
               x_axis_location=None, y_axis_location=None,
               outline_line_color=None, background_fill_color="white",
               border_fill_color="white")
    t.xgrid.visible = False
    t.ygrid.visible = False
    t.text(x=[x], y=[y], text=[text], text_font=value(FONT), text_font_size="25px",
           text_align="center", text_baseline="middle", text_color=TXT)
    return t


top_row = [make_panel(i, grid_titles[i], grid_data[i], 30, grid_ylims[i], grid_xticks,
                      grid_yticks[i], 269, 28, 49, i == 0, i == 0) for i in range(4)]
bot_row = [make_panel(i, room_titles[i], room_data[i], 20, room_ylims[i], room_xticks,
                      room_yticks[i], 267, 27, 52, i == 0, False) for i in range(4)]

layout = column(title_fig("Gridworld", 36, 21, 663), row(*top_row),
                title_fig("Dark-Key-To-Door", 32, 15, 667), row(*bot_row))

open("out.html", "w").write(file_html(layout, INLINE))
